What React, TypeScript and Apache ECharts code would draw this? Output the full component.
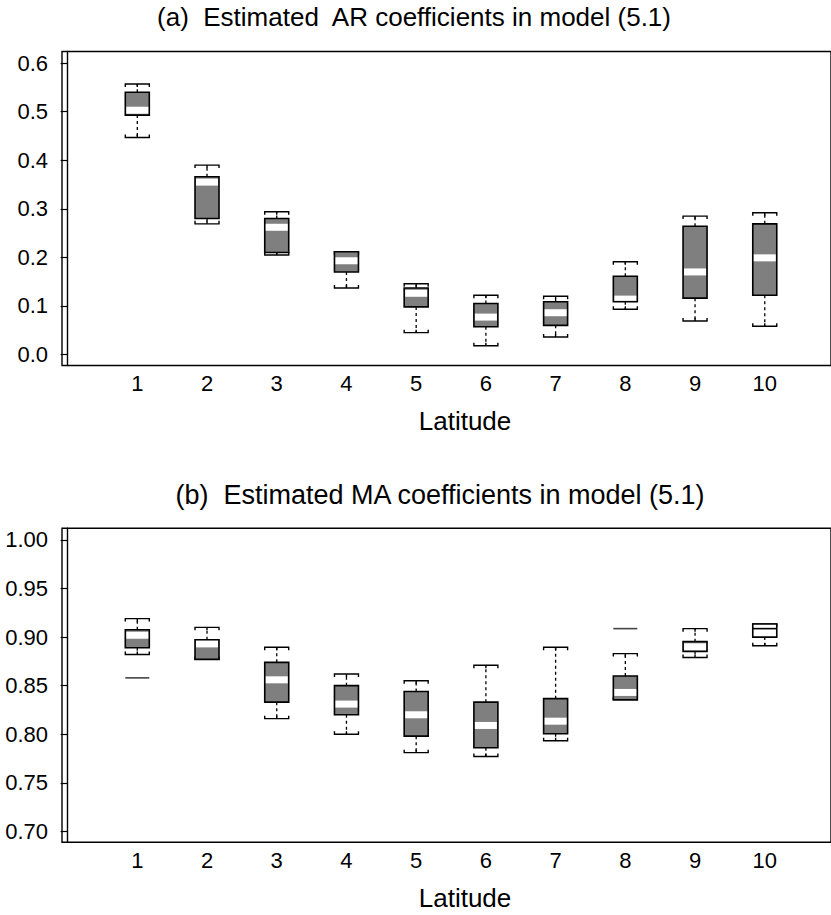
import React, { useEffect, useRef } from "react";
import * as echarts from "echarts";

// Panel (a): AR coefficients
const latitudes = [1, 2, 3, 4, 5, 6, 7, 8, 9, 10];
const arMin = [0.447, 0.269, 0.205, 0.137, 0.045, 0.018, 0.036, 0.093, 0.069, 0.058];
const arQ1 = [0.493, 0.28, 0.21, 0.17, 0.098, 0.057, 0.06, 0.1085, 0.116, 0.122];
const arMed = [0.503, 0.355, 0.262, 0.193, 0.126, 0.077, 0.086, 0.114, 0.17, 0.199];
const arQ3 = [0.54, 0.366, 0.28, 0.2115, 0.137, 0.105, 0.1085, 0.161, 0.264, 0.269];
const arMax = [0.557, 0.39, 0.294, 0.2115, 0.1456, 0.122, 0.12, 0.191, 0.285, 0.292];

// Panel (b): MA coefficients
const maMin = [0.882, 0.877, 0.816, 0.8, 0.781, 0.777, 0.7933, 0.8355, 0.879, 0.891];
const maQ1 = [0.889, 0.877, 0.833, 0.82, 0.798, 0.786, 0.8005, 0.8355, 0.8853, 0.9];
const maMed = [0.902, 0.893, 0.856, 0.831, 0.82, 0.809, 0.8134, 0.843, 0.89, 0.9087];
const maQ3 = [0.9076, 0.8973, 0.874, 0.85, 0.844, 0.833, 0.8366, 0.86, 0.8953, 0.9135];
const maMax = [0.919, 0.91, 0.8895, 0.862, 0.855, 0.871, 0.8895, 0.883, 0.9087, 0.9135];
const maOutliers: [number, number][] = [
  [1, 0.858],
  [8, 0.9087],
];

const arTicks = [0, 0.1, 0.2, 0.3, 0.4, 0.5, 0.6];
const maTicks = [0.7, 0.75, 0.8, 0.85, 0.9, 0.95, 1.0];

const titleA = "(a)  Estimated  AR coefficients in model (5.1)";
const titleB = "(b)  Estimated MA coefficients in model (5.1)";
const xName = "Latitude";

const hollowB = [10]; // boxes in panel (b) drawn without gray fill

const FONT = "'Liberation Sans', Arial, Helvetica, sans-serif";
const BOX_HALF = 12;
const GRAY = "#7f7f7f";

function buildBoxData(
  mins: number[],
  q1: number[],
  med: number[],
  q3: number[],
  maxs: number[]
) {
  return latitudes.map((lat, i) => [lat, mins[i], q1[i], med[i], q3[i], maxs[i]]);
}

function makeRenderBox(hollow: number[]) {
  return (params: any, api: any) => {
    const x = api.value(0);
    const pMin = api.coord([x, api.value(1)]);
    const pQ1 = api.coord([x, api.value(2)]);
    const pMed = api.coord([x, api.value(3)]);
    const pQ3 = api.coord([x, api.value(4)]);
    const pMax = api.coord([x, api.value(5)]);
    const cx = pMin[0];
    const isHollow = hollow.indexOf(x) >= 0;
    const dash = { stroke: "#000", lineWidth: 1.3, lineDash: [3, 3] };
    const solid = { stroke: "#000", lineWidth: 1.4 };
    const children: any[] = [];
    children.push({
      type: "line",
      shape: { x1: cx, y1: pQ3[1], x2: cx, y2: pMax[1] },
      style: dash,
    });
    children.push({
      type: "line",
      shape: { x1: cx, y1: pQ1[1], x2: cx, y2: pMin[1] },
      style: dash,
    });
    const capT = 3;
    children.push({
      type: "polyline",
      shape: {
        points: [
          [cx - BOX_HALF, pMax[1] + capT],
          [cx - BOX_HALF, pMax[1]],
          [cx + BOX_HALF, pMax[1]],
          [cx + BOX_HALF, pMax[1] + capT],
        ],
      },
      style: { ...solid, fill: null },
    });
    children.push({
      type: "line",
      shape: { x1: cx, y1: pMax[1], x2: cx, y2: pMax[1] + capT },
      style: solid,
    });
    children.push({
      type: "polyline",
      shape: {
        points: [
          [cx - BOX_HALF, pMin[1] - capT],
          [cx - BOX_HALF, pMin[1]],
          [cx + BOX_HALF, pMin[1]],
          [cx + BOX_HALF, pMin[1] - capT],
        ],
      },
      style: { ...solid, fill: null },
    });
    children.push({
      type: "line",
      shape: { x1: cx, y1: pMin[1], x2: cx, y2: pMin[1] - capT },
      style: solid,
    });
    const top = Math.min(pQ3[1], pQ1[1]);
    const bot = Math.max(pQ3[1], pQ1[1]);
    children.push({
      type: "rect",
      shape: { x: cx - BOX_HALF, y: top, width: BOX_HALF * 2, height: bot - top },
      style: { fill: isHollow ? "#fff" : GRAY, stroke: "#000", lineWidth: 1.6 },
    });
    if (isHollow) {
      children.push({
        type: "line",
        shape: { x1: cx - BOX_HALF, y1: pMed[1], x2: cx + BOX_HALF, y2: pMed[1] },
        style: { stroke: "#000", lineWidth: 1.6 },
      });
    } else {
      const mt = Math.max(pMed[1] - 3.5, top + 1);
      const mb = Math.min(pMed[1] + 3.5, bot - 1);
      if (mb > mt) {
        children.push({
          type: "rect",
          shape: { x: cx - BOX_HALF + 1, y: mt, width: BOX_HALF * 2 - 2, height: mb - mt },
          style: { fill: "#fff" },
        });
      }
    }
    return { type: "group", children };
  };
}

function renderOutlier(params: any, api: any) {
  const p = api.coord([api.value(0), api.value(1)]);
  return {
    type: "line",
    shape: { x1: p[0] - BOX_HALF, y1: p[1], x2: p[0] + BOX_HALF, y2: p[1] },
    style: { stroke: "#444", lineWidth: 1.6 },
  };
}

export default function App() {
  const ref = useRef<HTMLDivElement>(null);
  useEffect(() => {
    if (!ref.current) return;
    const chart = echarts.init(ref.current, undefined, { renderer: "svg" });
    const xAxisBase = (gridIndex: number) => ({
      type: "value" as const,
      gridIndex,
      min: -0.08,
      max: 10.95,
      axisLine: { show: false },
      axisTick: { show: false },
      splitLine: { show: false },
      axisLabel: {
        customValues: latitudes,
        color: "#000",
        fontSize: 22,
        fontFamily: FONT,
        margin: 7,
        formatter: (v: number) => String(v),
      },
    });
    const yAxisBase = (gridIndex: number, min: number, max: number, ticks: number[], dec: number) => ({
      type: "value" as const,
      gridIndex,
      min,
      max,
      splitLine: { show: false },
      axisLine: { show: true, lineStyle: { color: "#000", width: 1.4 } },
      axisTick: {
        show: true,
        customValues: ticks,
        length: 7,
        lineStyle: { color: "#000", width: 1.2 },
      },
      axisLabel: {
        customValues: ticks,
        color: "#000",
        fontSize: 22,
        fontFamily: FONT,
        margin: 14,
        formatter: (v: number) => v.toFixed(dec),
      },
    });
    chart.setOption({
      animation: false,
      backgroundColor: "#fff",
      grid: [
        { left: 62, top: 51.5, width: 771, height: 314, show: true, borderColor: "#000", borderWidth: 1.4, backgroundColor: "transparent" },
        { left: 62, top: 528.3, width: 771, height: 314, show: true, borderColor: "#000", borderWidth: 1.4, backgroundColor: "transparent" },
      ],
      xAxis: [xAxisBase(0), xAxisBase(1)],
      yAxis: [
        yAxisBase(0, -0.0227, 0.624, arTicks, 1),
        yAxisBase(1, 0.6887, 1.012, maTicks, 2),
      ],
      graphic: [
        { type: "text", x: 414, y: 4, style: { text: titleA, font: `26px ${FONT}`, fill: "#000", textAlign: "center" } },
        { type: "text", x: 465, y: 408, style: { text: xName, font: `26px ${FONT}`, fill: "#000", textAlign: "center" } },
        { type: "text", x: 440, y: 481, style: { text: titleB, font: `27px ${FONT}`, fill: "#000", textAlign: "center" } },
        { type: "text", x: 465, y: 885, style: { text: xName, font: `26px ${FONT}`, fill: "#000", textAlign: "center" } },
      ],
      series: [
        {
          type: "custom",
          xAxisIndex: 0,
          yAxisIndex: 0,
          renderItem: makeRenderBox([]),
          data: buildBoxData(arMin, arQ1, arMed, arQ3, arMax),
          encode: { x: 0, y: [1, 2, 3, 4, 5] },
          clip: false,
        },
        {
          type: "custom",
          xAxisIndex: 1,
          yAxisIndex: 1,
          renderItem: makeRenderBox(hollowB),
          data: buildBoxData(maMin, maQ1, maMed, maQ3, maMax),
          encode: { x: 0, y: [1, 2, 3, 4, 5] },
          clip: false,
        },
        {
          type: "custom",
          xAxisIndex: 1,
          yAxisIndex: 1,
          renderItem: renderOutlier,
          data: maOutliers,
          encode: { x: 0, y: 1 },
        },
      ],
    });
    return () => chart.dispose();
  }, []);
  return <div ref={ref} style={{ width: 831, height: 915, position: "absolute", left: 0, top: 0 }} />;
}
